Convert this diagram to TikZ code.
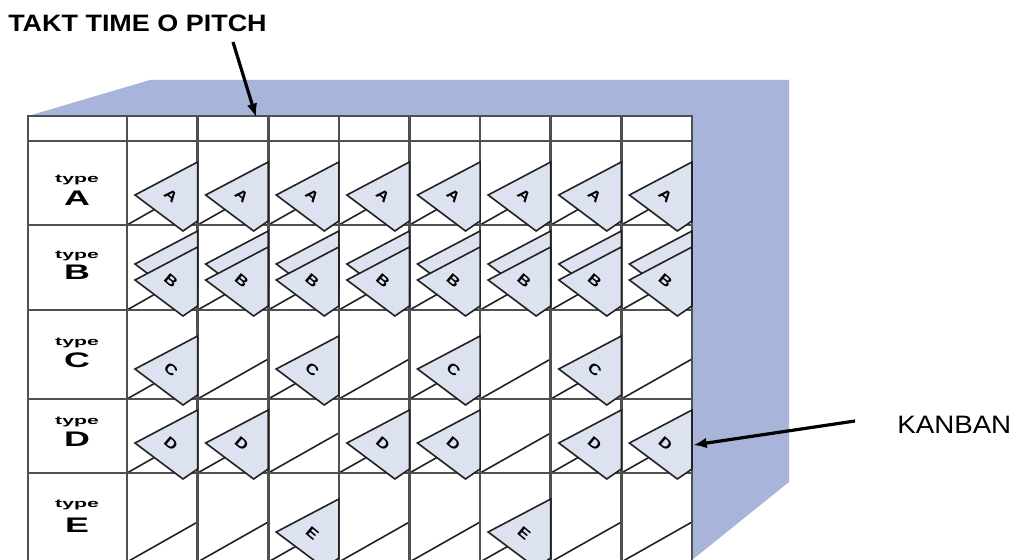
\documentclass[tikz,border=0pt]{standalone}
\usepackage{fontspec}
\usepackage{graphicx}
\setmainfont{Liberation Sans}
\usetikzlibrary{calc,arrows.meta}

\definecolor{wallblue}{HTML}{A9B4DA}
\definecolor{cardfill}{HTML}{DDE2F0}
\definecolor{gridgray}{HTML}{505050}
\definecolor{ink}{HTML}{222222}

\tikzset{
  gridline/.style={draw=gridgray, line width=1.9pt},
  slot/.style={draw=ink, line width=1.2pt},
  card/.style={draw=ink, fill=cardfill, line width=1.2pt, line join=miter},
  tag/.style={font=\fontsize{11}{11}\bfseries\selectfont, rotate=-40, inner sep=0pt},
  typetext/.style={font=\fontsize{8.6}{9}\bfseries\selectfont, inner sep=0pt},
  rowletter/.style={font=\fontsize{15.8}{16}\bfseries\selectfont, inner sep=0pt},
  callout/.style={inner sep=0pt, anchor=base west},
  pointer/.style={->, line width=2.4pt}
}

% one kanban card sitting in its pocket: row letter, column, bottom of the row
\newcommand{\kanban}[3]{%
  \coordinate (card-#1-#2) at ({56.375+70.625*#2},#3);
  \draw[card] (card-#1-#2) ++(8,-30) -- ++(62.6,-33) -- ++(0,59) -- ++(-14.6,10) -- cycle;
  \node[tag] (tag-#1-#2) at ($(card-#1-#2)+(44,-29)$) {\scalebox{1.2}[1]{#1}};
}

\begin{document}
\begin{tikzpicture}[x=0.75pt, y=-0.75pt, >={Latex[length=10pt,width=8pt]}]
\useasboundingbox (0,0) rectangle (1017,560);
\clip (0,0) rectangle (1017,560);
\fill[white] (0,0) rectangle (1017,560);

% board and its blue box
\fill[wallblue] (28,116) -- (150,80) -- (789,80) -- (789,482) -- (692,560) -- (692,116) -- cycle;
\fill[white] (28,116) rectangle (692,562);

% pockets
\foreach \bot in {225,310,399,473,562}
  \foreach \c in {0,...,7}
    \draw[slot] ({127+70.625*\c},\bot) -- ++(70.625,-40);

% grid
\draw[gridline] (28,116) rectangle (692,562);
\foreach \y in {141,225,310,399,473}
  \draw[gridline] (28,\y) -- (692,\y);
\foreach \c in {0,...,7}
  \draw[gridline] ({127+70.625*\c},116) -- ++(0,446);

% row headings
\foreach \r/\ty/\ly in {A/180/198, B/256/272, C/343/360, D/422/439, E/505/525}{
  \node[typetext] (type-\r) at (77,\ty) {\scalebox{1.85}[1]{type}};
  \node[rowletter] (letter-\r) at (77,\ly) {\scalebox{1.7}[1]{\r}};
}

% cards
\foreach \c in {1,...,8}{\kanban{A}{\c}{225}}
\foreach \c in {1,...,8}{
  \draw[card] ({56.375+70.625*\c},310) ++(8,-46) -- ++(62.6,-33) -- ++(0,59) -- ++(-14.6,10) -- cycle;
  \kanban{B}{\c}{310}
}
\foreach \c in {1,3,5,7}{\kanban{C}{\c}{399}}
\foreach \c in {1,2,4,5,7,8}{\kanban{D}{\c}{473}}
\foreach \c in {3,6}{\kanban{E}{\c}{562}}

% callouts
\node[callout, font=\fontsize{17.8}{18}\bfseries\selectfont] (takt) at (8,32) {\scalebox{1.135}[1]{TAKT TIME O PITCH}};
\node[callout, font=\fontsize{18.9}{19}\selectfont] (kanban) at (897,433) {\scalebox{1.1}[1]{KANBAN}};
\coordinate (pitch) at (256,117);
\coordinate (kanban tip) at ($(card-D-8)+(72,-28)$);

\draw[pointer] ($(takt.base west)+(225,10)$) -- (pitch);
\draw[pointer] ($(kanban.base west)+(-42,-12)$) -- (kanban tip);
\end{tikzpicture}
\end{document}
